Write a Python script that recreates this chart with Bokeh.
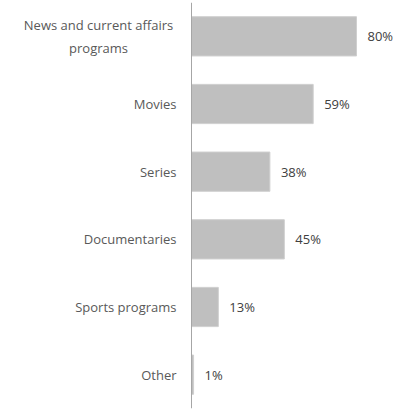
from bokeh.plotting import figure
from bokeh.models import ColumnDataSource, FactorRange, Span
from bokeh.core.properties import value
from bokeh.embed import file_html
from bokeh.resources import INLINE

categories = ["News and current affairs\nprograms", "Movies", "Series", "Documentaries", "Sports programs", "Other"]
values = [80, 59, 38, 45, 13, 1]
value_labels = ["80%", "59%", "38%", "45%", "13%", "1%"]

keys = [c.replace("\n", " ") for c in categories]

W, H = 408, 410
axis_px = 191
px_per_unit = 165 / 80.0
x0 = -axis_px / px_per_unit
x1 = (W - axis_px) / px_per_unit

p = figure(width=W, height=H, output_backend="svg", toolbar_location=None,
           x_range=(x0, x1), y_range=FactorRange(factors=list(reversed(keys))),
           min_border_left=0, min_border_right=0, min_border_top=2, min_border_bottom=2)
p.axis.visible = False
p.grid.visible = False
p.outline_line_color = None
p.background_fill_color = "white"
p.border_fill_color = "white"

src = ColumnDataSource(dict(cat=keys, val=values, lab=value_labels))
p.hbar(y="cat", right="val", left=0, height=0.58, source=src,
       fill_color="#bfbfbf", line_color="#cfcfcf", line_width=1)

p.add_layout(Span(location=0, dimension="height", line_color="#a6a6a6", line_width=1))

p.text(x="val", y="cat", text="lab", source=src, x_offset=11,
       text_align="left", text_baseline="middle", text_color="#404040",
       text_font=value("Open Sans"), text_font_size="13px")

# category labels: single-line ones right-aligned, multi-line ones centred as a right-aligned block
label_gap = 15 / px_per_unit
single = [(k, c) for k, c in zip(keys, categories) if "\n" not in c]
multi = [(k, c) for k, c in zip(keys, categories) if "\n" in c]
p.text(x=[-label_gap] * len(single), y=[k for k, _ in single], text=[c for _, c in single],
       text_align="right", text_baseline="middle", text_color="#595959",
       text_font=value("Open Sans"), text_font_size="13px")
block_half = 78 / px_per_unit
p.text(x=[-label_gap - block_half] * len(multi), y=[k for k, _ in multi], text=[c for _, c in multi],
       text_align="center", text_baseline="middle", text_color="#595959",
       text_font=value("Open Sans"), text_font_size="13px", text_line_height=1.3)

open("out.html", "w").write(file_html(p, INLINE))
